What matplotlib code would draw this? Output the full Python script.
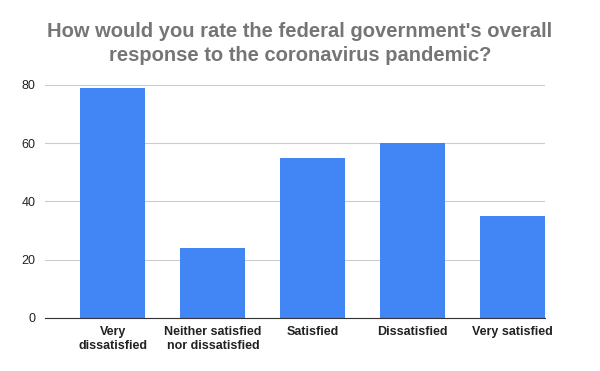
import matplotlib
matplotlib.use("Agg")
import matplotlib.pyplot as plt

plt.rcParams['font.family'] = ['Liberation Sans', 'DejaVu Sans']

# Survey answers
categories = ["Very\ndissatisfied", "Neither satisfied\nnor dissatisfied",
              "Satisfied", "Dissatisfied", "Very satisfied"]
counts = [79, 24, 55, 60, 35]
y_ticks = [0, 20, 40, 60, 80]

fig = plt.figure(figsize=(6, 3.71), dpi=100)
ax = fig.add_axes([0.075, 0.1429, 0.833, 0.628])

x = range(len(categories))
ax.bar(x, counts, width=0.65, color='#4285F4', zorder=3)

ax.set_xlim(-0.68, 4.32)
ax.set_ylim(0, 80)
ax.set_yticks(y_ticks)
ax.set_xticks(list(x))
ax.set_xticklabels(categories, fontweight='bold', fontsize=9, color='#222222')
ax.tick_params(axis='y', labelsize=9, labelcolor='#222222', length=0, pad=7)
ax.tick_params(axis='x', length=0, pad=6)

ax.grid(axis='y', color='#cccccc', linewidth=0.8, zorder=0)
for side in ['top', 'right', 'left']:
    ax.spines[side].set_visible(False)
ax.spines['bottom'].set_color('#333333')
ax.spines['bottom'].set_zorder(4)

fig.suptitle("How would you rate the federal government's overall\nresponse to the coronavirus pandemic?",
             x=0.5, y=0.94, fontsize=14.5, fontweight='bold', color='#757575',
             linespacing=1.3)

fig.savefig("out.png", dpi=100)
